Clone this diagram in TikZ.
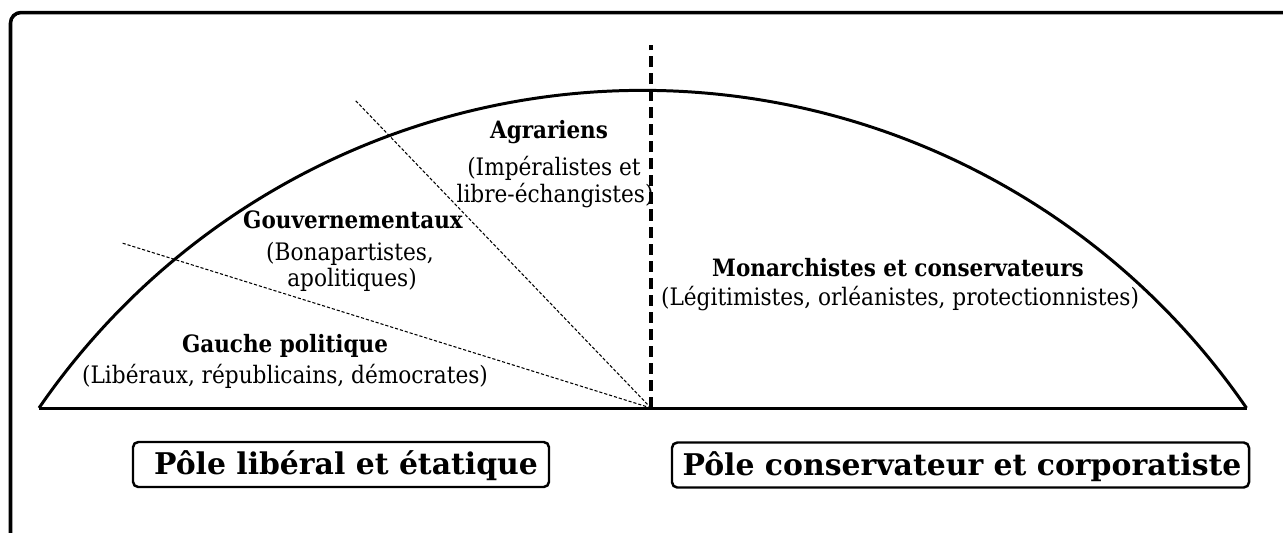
\documentclass[tikz,border=0pt]{standalone}
\usepackage{fontspec}
\setmainfont{DejaVu Serif Condensed}
\newfontfamily\polewide{DejaVu Serif}[BoldFont={DejaVu Serif Bold}]
\begin{document}
\begin{tikzpicture}[x=0.02cm,y=-0.02cm,
  lbl/.style={inner sep=0pt,anchor=base,font=\fontsize{13.7}{16}\selectfont},
  lblb/.style={lbl,font=\fontsize{13.6}{16}\selectfont\bfseries},
  polebox/.style={draw,line width=1.4pt,rounded corners=3pt,inner sep=0pt},
  poletext/.style={anchor=base,inner sep=0pt,font=\polewide\fontsize{17}{20}\selectfont\bfseries},
  arcline/.style={line width=1.7pt},
  thindash/.style={line width=0.6pt,dash pattern=on 1.8pt off 1.1pt},
  thickdash/.style={line width=1.8pt,dash pattern=on 6.3pt off 3.4pt}]
\useasboundingbox (0,0) rectangle (1283,532);
\begin{scope}
\clip (0,0) rectangle (1283,532);
\draw[line width=2pt,rounded corners=6pt] (10.5,12.5) rectangle (1320,570);
\end{scope}
% geometry
\coordinate (L) at (39,408);
\coordinate (R) at (1247,408);
\coordinate (O) at (651,408);
\coordinate (T) at (651,45);
\coordinate (A1) at (355,100);
\coordinate (G1) at (122,243);
\draw[arcline] (L) -- (R);
\draw[arcline] (L) arc[start angle=214.5,end angle=325.5,radius=732.6];
\draw[thickdash] (O) -- (T);
\draw[thindash] (O) -- (A1);
\draw[thindash] (O) -- (G1);
% labels
\node[lblb] (agr) at (549,138) {Agrariens};
\node[lbl] (agr1) at (554,175) {(Impéralistes et};
\node[lbl] (agr2) at (555,202) {libre-échangistes)};
\node[lblb] (gou) at (353,228) {Gouvernementaux};
\node[lbl] (gou1) at (350,260) {(Bonapartistes,};
\node[lbl] (gou2) at (352,286) {apolitiques)};
\node[lblb] (gau) at (285,352) {Gauche politique};
\node[lbl] (gau1) at (285,383) {(Libéraux, républicains, démocrates)};
\node[lblb] (mon) at (898,276) {Monarchistes et conservateurs};
\node[lbl] (mon1) at (900,305) {(Légitimistes, orléanistes, protectionnistes)};
% poles
\node[polebox,minimum width=416*0.02cm,minimum height=45*0.02cm] (p1) at (341,464.5) {};
\node[poletext] (p1t) at (346,474) {Pôle libéral et étatique};
\node[polebox,minimum width=577*0.02cm,minimum height=45*0.02cm] (p2) at (960.5,465) {};
\node[poletext] (p2t) at (962,475) {Pôle conservateur et corporatiste};
\end{tikzpicture}
\end{document}
